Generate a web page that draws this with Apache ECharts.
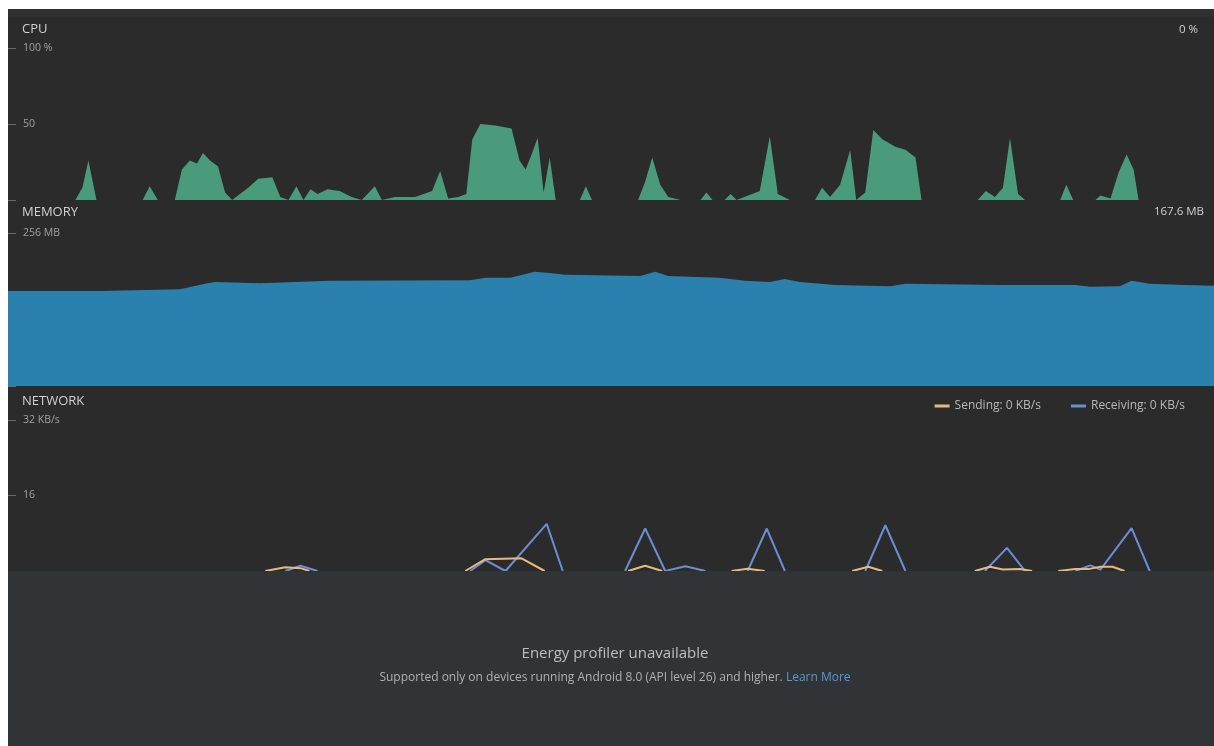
<!DOCTYPE html>
<html><head><meta charset="utf-8">
<script src="https://cdn.jsdelivr.net/npm/echarts@6/dist/echarts.min.js"></script>
<style>html,body{margin:0;padding:0;background:#fff;}#c{width:1214px;height:746px;}</style>
</head><body><div id="c"></div>
<script>
// CPU usage (%) over time (s)
const cpuTime = [0,6.7,7.4,8.0,8.8,13.4,14.1,14.9,16.6,17.3,18.1,18.8,19.4,20.1,20.9,21.6,22.3,23.9,24.9,26.3,27.1,27.9,28.7,29.4,30.1,30.8,31.8,33.0,34.2,35.2,36.5,37.2,38.5,40.5,42.2,43.0,43.8,44.8,45.6,46.2,47.0,48.5,50.1,50.9,51.5,52.1,52.7,53.3,53.9,54.5,56.9,57.5,58.1,62.7,63.4,64.1,64.9,65.7,66.9,68.9,69.5,70.1,71.3,71.9,72.5,74.8,75.8,76.6,77.8,80.3,81.0,81.8,82.8,83.8,84.4,85.3,86.1,87.0,88.3,89.3,90.3,90.9,96.5,97.3,98.2,99.0,99.7,100.5,101.2,104.7,105.3,106.0,108.2,108.7,109.7,110.5,111.3,112.0,112.5,120];
const cpuValues = [0,0,8,26,0,0,9,0,0,20,26,24,31,26,22,5,0,8,14,15,2,0,9,0,7,4,7,6,2,0,9,0,2,2,6,19,1,2,4,40,50,49,47,26,20,30,41,5,28,0,0,9,0,0,12,28,10,2,0,0,5,0,0,4,0,6,42,4,0,0,8,2,10,33,0,5,46,40,35,33,28,0,0,6,2,8,41,4,0,0,10,0,0,3,1,18,30,20,0,0];

// Memory (MB)
const memTime = [0,9.2,17.1,19.6,20.6,25.1,32.0,46.0,47.5,50.0,52.4,53.9,55.4,62.9,64.4,65.7,70.8,73.3,75.8,77.3,78.8,82.3,87.8,89.3,98.7,106.2,107.7,110.6,111.8,113.6,117.1,120];
const memValues = [159,159,162,171,174,172,176,177,181,181,191,189,186,184,191,184,181,176,174,179,174,169,167,171,169,169,166,167,176,171,169,167.6];

// Network (KB/s), null = gap
const sendTime = [25.6,27.6,29.1,30.0,30.5, 45.5,47.5,51.1,53.4,53.9, 61.7,63.4,65.1,65.6, 72.0,73.6,75.3,75.8, 84.0,85.6,87.0,87.5, 96.2,97.7,99.0,100.7,101.9,102.4, 104.5,106.2,107.5,108.7,109.9,111.1];
const sendValues = [0,0.8,0.6,0,null, 0,2.5,2.7,0,null, 0,1.1,0,null, 0,0.5,0,null, 0,0.9,0,null, 0,0.9,0.3,0.4,0,null, 0,0.4,0.4,0.9,0.9,0];
const recvTime = [27.6,29.1,30.8,31.3, 46.0,47.5,49.5,53.6,55.2,55.7, 61.4,63.4,65.4,67.4,69.4,69.9, 73.6,75.5,77.3,77.8, 85.3,87.3,89.3,89.8, 97.2,99.4,101.2,101.7, 106.2,107.7,108.7,111.8,113.6];
const recvValues = [0,1.1,0,null, 0,2.3,0,10.0,0,null, 0,9.0,0,1.0,0,null, 0,9.0,0,null, 0,9.7,0,null, 0,4.9,0,null, 0,1.2,0.3,9.1,0];

const cpuTicks = {100:'100 %', 50:'50'};
const memTicks = {256:'256 MB', 128:'128'};
const netTicks = {32:'32 KB/s', 16:'16'};

const pair = (ts, vs) => ts.map((t,i)=>[t, vs[i]===null?'-':vs[i]]);

const chart = echarts.init(document.getElementById('c'));
const FONT = 'Open Sans';
function yAx(gi, max, interval, ticks){
  return {gridIndex:gi, type:'value', min:0, max:max, interval:interval,
    axisLine:{show:false}, splitLine:{show:false},
    axisTick:{show:true, inside:true, length:8, lineStyle:{color:'#6a6a6a'}},
    axisLabel:{inside:true, margin:15, color:'#a0a0a0', fontSize:10.5, fontFamily:FONT,
      formatter:v=>ticks[v]||''}};
}
function xAx(gi){ return {gridIndex:gi, type:'value', min:0, max:120, show:false}; }

chart.setOption({
  backgroundColor:'#ffffff',
  animation:false,
  grid:[
    {left:8, right:0, top:48, height:152},
    {left:8, right:0, top:233, height:153},
    {left:8, right:0, top:420, height:151}
  ],
  xAxis:[xAx(0),xAx(1),xAx(2)],
  yAxis:[yAx(0,100,50,cpuTicks), yAx(1,256,128,memTicks), yAx(2,32,16,netTicks)],
  legend:{right:24, top:395, itemWidth:15, itemHeight:3, icon:'rect', itemGap:30,
    data:['Sending','Receiving'],
    formatter:n=>n+': 0 KB/s',
    textStyle:{color:'#b8b8b8', fontSize:12, fontFamily:FONT}},
  series:[
    {type:'line', xAxisIndex:0, yAxisIndex:0, data:pair(cpuTime,cpuValues), showSymbol:false,
      lineStyle:{width:0}, areaStyle:{color:'#4a9b7b', opacity:1}, itemStyle:{color:'#4a9b7b'}, z:2},
    {type:'line', xAxisIndex:1, yAxisIndex:1, data:pair(memTime,memValues), showSymbol:false,
      lineStyle:{width:0}, areaStyle:{color:'#2a81ae', opacity:1}, itemStyle:{color:'#2a81ae'}, z:2},
    {name:'Sending', type:'line', xAxisIndex:2, yAxisIndex:2, data:pair(sendTime,sendValues), showSymbol:false,
      connectNulls:false, lineStyle:{width:2, color:'#e6b97f'}, itemStyle:{color:'#e6b97f'}, z:3},
    {name:'Receiving', type:'line', xAxisIndex:2, yAxisIndex:2, data:pair(recvTime,recvValues), showSymbol:false,
      connectNulls:false, lineStyle:{width:2, color:'#6a8ed3'}, itemStyle:{color:'#6a8ed3'}, z:2}
  ],
  graphic:[
    {type:'rect', z:-10, silent:true, shape:{x:8, y:9, width:1206, height:737}, style:{fill:'#2b2b2b'}},
    {type:'rect', z:-9, silent:true, shape:{x:8, y:9, width:1206, height:8}, style:{fill:'#303030'}},
    {type:'rect', z:100, silent:true, shape:{x:8, y:571, width:1206, height:175}, style:{fill:'#313437'}},
    {type:'text', z:101, left:22, top:23, style:{text:'CPU', fill:'#d0d0d0', fontSize:13, fontFamily:FONT}},
    {type:'text', z:101, right:16, top:24, style:{text:'0 %', fill:'#d0d0d0', fontSize:11.5, fontFamily:FONT}},
    {type:'text', z:101, left:22, top:206, style:{text:'MEMORY', fill:'#d0d0d0', fontSize:13, fontFamily:FONT}},
    {type:'text', z:101, right:10, top:206, style:{text:'167.6 MB', fill:'#d0d0d0', fontSize:11.5, fontFamily:FONT}},
    {type:'text', z:101, left:22, top:395, style:{text:'NETWORK', fill:'#d0d0d0', fontSize:13, fontFamily:FONT}},
    {type:'text', z:101, x:615, y:654, style:{text:'Energy profiler unavailable', fill:'#bdbdbd', fontSize:15, fontFamily:FONT, align:'center', verticalAlign:'middle'}},
    {type:'text', z:101, x:615, y:678, style:{text:'{a|Supported only on devices running Android 8.0 (API level 26) and higher. }{b|Learn More}',
      align:'center', verticalAlign:'middle',
      rich:{a:{fill:'#b0b0b0', fontSize:12, fontFamily:FONT}, b:{fill:'#5a95d6', fontSize:12, fontFamily:FONT}}}}
  ]
});
</script></body></html>
